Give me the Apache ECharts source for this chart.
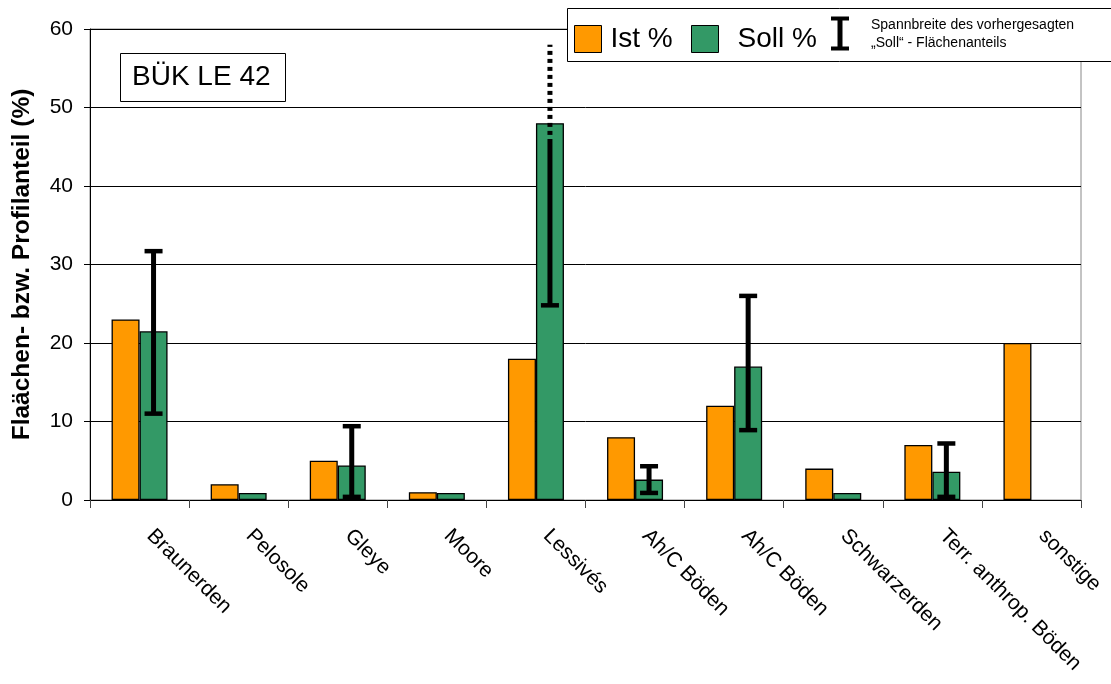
<!DOCTYPE html>
<html>
<head>
<meta charset="utf-8">
<script src="https://cdn.jsdelivr.net/npm/echarts@6/dist/echarts.min.js"></script>
<style>
html,body{margin:0;padding:0;background:#fff;}
#chart{width:1111px;height:684px;}
</style>
</head>
<body>
<div id="chart"></div>
<script>
// ---- data ----
const categories = ['Braunerden','Pelosole','Gleye','Moore','Lessivés','Ah/C Böden','Ah/C Böden','Schwarzerden','Terr. anthrop. Böden','sonstige'];
const istValues  = [23, 2, 5, 1, 18, 8, 12, 4, 7, 20];
const sollValues = [21.5, 0.9, 4.4, 0.9, 48, 2.6, 17, 0.9, 3.6, null];
const errLow     = [11, null, 0.4, null, 24.8, 0.9, 8.9, null, 0.4, null];
const errHigh    = [31.7, null, 9.4, null, 58, 4.3, 26, null, 7.2, null];
const errDottedFrom = [null, null, null, null, 46, null, null, null, null, null];
const yTicks = [0, 10, 20, 30, 40, 50, 60];

const FONT = '"Liberation Sans", Arial, sans-serif';
const BAR_W = 28;

const errData = [];
categories.forEach((c, i) => {
  if (errLow[i] != null && errHigh[i] != null) {
    errData.push([i, errLow[i], errHigh[i], errDottedFrom[i] == null ? '-' : errDottedFrom[i]]);
  }
});

const chart = echarts.init(document.getElementById('chart'), null, {renderer: 'canvas'});

const option = {
  backgroundColor: '#fff',
  animation: false,
  textStyle: {fontFamily: FONT, color: '#000'},
  grid: {left: 90, right: 30, top: 29, bottom: 184, show: true, borderColor: '#888', borderWidth: 1, backgroundColor: 'transparent'},
  legend: [
    {
      data: ['Ist %'], left: 569, top: 20, itemWidth: 27, itemHeight: 27, icon: 'rect', z: 60,
      textStyle: {fontSize: 28, fontFamily: FONT, color: '#000', padding: [0,0,0,4]},
      itemStyle: {borderColor: '#000', borderWidth: 1}, selectedMode: false
    },
    {
      data: ['Soll %'], left: 686, top: 20, itemWidth: 27, itemHeight: 27, icon: 'rect', z: 60,
      textStyle: {fontSize: 28, fontFamily: FONT, color: '#000', padding: [0,0,0,14]},
      itemStyle: {borderColor: '#000', borderWidth: 1}, selectedMode: false
    }
  ],
  xAxis: {
    type: 'category',
    data: categories,
    axisLine: {lineStyle: {color: '#000', width: 1}},
    axisTick: {show: true, length: 8, lineStyle: {color: '#444'}},
    axisLabel: {rotate: -45, fontSize: 21, fontFamily: FONT, color: '#000', margin: 22, interval: 0,
      padding: [0, 0, 0, 15]},
    splitLine: {show: false}
  },
  yAxis: {
    type: 'value',
    min: 0, max: 60, interval: 10,
    name: 'Flaächen- bzw. Profilanteil (%)',
    nameLocation: 'middle',
    nameGap: 55,
    nameTextStyle: {fontSize: 24.5, fontWeight: 'bold', fontFamily: FONT, color: '#000'},
    axisLine: {show: true, lineStyle: {color: '#000', width: 1}},
    axisTick: {show: true, length: 6, lineStyle: {color: '#000'}},
    axisLabel: {fontSize: 21, fontFamily: FONT, color: '#000', margin: 17,
      formatter: v => yTicks.includes(v) ? String(v) : ''},
    splitLine: {show: true, lineStyle: {color: '#000', width: 1}}
  },
  series: [
    {
      name: 'Ist %', type: 'bar', data: istValues, barWidth: BAR_W, barGap: '0%',
      itemStyle: {color: '#FF9900', borderColor: '#000', borderWidth: 1.3}
    },
    {
      name: 'Soll %', type: 'bar', data: sollValues, barWidth: BAR_W, barGap: '0%',
      itemStyle: {color: '#339966', borderColor: '#000', borderWidth: 1.3}
    },
    {
      name: 'Spannbreite', type: 'custom', z: 10,
      data: errData,
      encode: {x: 0, y: [1, 2]},
      renderItem: function (params, api) {
        const i = api.value(0);
        const lo = api.value(1), hi = api.value(2);
        const dot = api.value(3);
        const pLo = api.coord([i, lo]);
        const pHi = api.coord([i, hi]);
        const x = pLo[0] + BAR_W / 2;
        const hasDot = typeof dot === 'number' && !isNaN(dot);
        const solidTopY = hasDot ? api.coord([i, dot])[1] : pHi[1];
        const children = [
          {type: 'line', shape: {x1: x, y1: pLo[1], x2: x, y2: solidTopY}, style: {stroke: '#000', lineWidth: 5}},
          {type: 'line', shape: {x1: x - 9, y1: pLo[1], x2: x + 9, y2: pLo[1]}, style: {stroke: '#000', lineWidth: 4.5}}
        ];
        if (hasDot) {
          children.push({type: 'line', shape: {x1: x, y1: solidTopY - 4, x2: x, y2: pHi[1]},
            style: {stroke: '#000', lineWidth: 5, lineDash: [4, 4], lineCap: 'butt'}});
        } else {
          children.push({type: 'line', shape: {x1: x - 9, y1: pHi[1], x2: x + 9, y2: pHi[1]}, style: {stroke: '#000', lineWidth: 4.5}});
        }
        return {type: 'group', children: children};
      }
    }
  ],
  graphic: [
    {type: 'rect', left: 120, top: 53, z: 100, shape: {width: 165, height: 48},
      style: {fill: '#fff', stroke: '#000', lineWidth: 1}},
    {type: 'text', left: 132, top: 63, z: 101,
      style: {text: 'BÜK LE 42', font: '28px ' + FONT, fill: '#000'}},
    // legend frame and range-icon
    {type: 'rect', left: 567, top: 8, z: 50, silent: true, shape: {width: 560, height: 53},
      style: {fill: '#fff', stroke: '#000', lineWidth: 1}},
    {type: 'line', z: 101, shape: {x1: 840, y1: 17, x2: 840, y2: 50}, style: {stroke: '#000', lineWidth: 5}},
    {type: 'line', z: 101, shape: {x1: 831, y1: 18.5, x2: 849, y2: 18.5}, style: {stroke: '#000', lineWidth: 4}},
    {type: 'line', z: 101, shape: {x1: 831, y1: 48.5, x2: 849, y2: 48.5}, style: {stroke: '#000', lineWidth: 4}},
    {type: 'text', left: 871, top: 16, z: 101,
      style: {text: 'Spannbreite des vorhergesagten\n„Soll“ - Flächenanteils', font: '14px ' + FONT, fill: '#000', lineHeight: 18}}
  ]
};
chart.setOption(option);
</script>
</body>
</html>
